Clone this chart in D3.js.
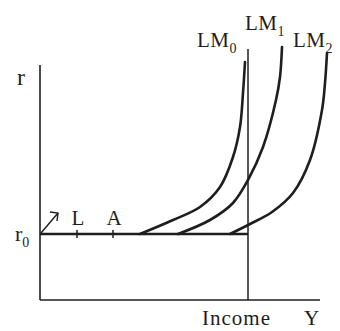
<!DOCTYPE html>
<html>
<head>
<meta charset="utf-8">
<script src="https://cdn.jsdelivr.net/npm/d3@7"></script>
<style>
  body { margin: 0; background: #fff; }
  svg text { font-family: "Liberation Serif", "Times New Roman", serif; fill: #1e1e1e; }
</style>
</head>
<body>
<div id="chart"></div>
<script>
// chart values (income units along x, interest rate units along y)
const r0 = 66;
const fullEmployment = 208;
const tickNames = ["L", "A"];
const tickValues = [37, 73];
const curveNames = ["LM", "LM", "LM"];
const curveSubs = ["0", "1", "2"];
const lm0 = [[100, 66], [133, 80], [160, 93], [180, 113], [193, 143], [200, 173], [203, 207], [205, 238]];
const lm1 = [[138, 66], [170, 80], [193, 97], [208, 120], [223, 153], [236, 200], [240, 223], [242, 253]];
const lm2 = [[190, 66], [210, 76], [232, 88], [253, 107], [270, 140], [282, 190], [285, 217], [287, 247]];

const width = 340, height = 331;
const svg = d3.select("#chart").append("svg")
  .attr("width", width).attr("height", height);

const x = d3.scaleLinear().domain([0, 280]).range([40, 320]);
const y = d3.scaleLinear().domain([0, 235]).range([300, 65]);

const ink = "#1e1e1e";

// axes
svg.append("line")
  .attr("x1", x(0)).attr("y1", y(0)).attr("x2", x(0)).attr("y2", y(235))
  .attr("stroke", ink).attr("stroke-width", 1.6);
svg.append("line")
  .attr("x1", x(0)).attr("y1", y(0)).attr("x2", x(280)).attr("y2", y(0))
  .attr("stroke", ink).attr("stroke-width", 1.6);

// full employment line
svg.append("line")
  .attr("x1", x(fullEmployment)).attr("y1", y(0))
  .attr("x2", x(fullEmployment)).attr("y2", y(251))
  .attr("stroke", ink).attr("stroke-width", 1.5);

// liquidity trap floor
svg.append("line")
  .attr("x1", x(0)).attr("y1", y(r0)).attr("x2", x(fullEmployment)).attr("y2", y(r0))
  .attr("stroke", ink).attr("stroke-width", 2.5);

svg.selectAll(".tick-mark")
  .data(tickValues)
  .enter().append("line")
  .attr("class", "tick-mark")
  .attr("x1", d => x(d)).attr("x2", d => x(d))
  .attr("y1", y(r0) - 4).attr("y2", y(r0) + 4)
  .attr("stroke", ink).attr("stroke-width", 1.5);

svg.selectAll(".tick-label")
  .data(tickValues)
  .enter().append("text")
  .attr("class", "tick-label")
  .attr("x", d => x(d) + 1).attr("y", y(r0) - 9)
  .attr("text-anchor", "middle")
  .attr("font-size", 21)
  .text((d, i) => tickNames[i]);

// arrow from origin of floor
const ax0 = x(0) + 1, ay0 = y(r0) - 1, ax1 = x(0) + 18, ay1 = y(r0) - 21;
svg.append("line")
  .attr("x1", ax0).attr("y1", ay0).attr("x2", ax1).attr("y2", ay1)
  .attr("stroke", ink).attr("stroke-width", 1.4);
svg.append("path")
  .attr("d", `M${ax1 - 8},${ay1 - 1} L${ax1},${ay1} L${ax1 - 1},${ay1 + 8}`)
  .attr("fill", "none").attr("stroke", ink).attr("stroke-width", 1.4);

// LM curves
const line = d3.line()
  .x(d => x(d[0])).y(d => y(d[1]))
  .curve(d3.curveCatmullRom.alpha(0.5));

svg.selectAll(".lm")
  .data([lm0, lm1, lm2])
  .enter().append("path")
  .attr("class", "lm")
  .attr("d", line)
  .attr("fill", "none")
  .attr("stroke", ink)
  .attr("stroke-width", 2.6)
  .attr("stroke-linecap", "round");

// curve labels
const labelPos = [[157, 253], [205, 270], [253, 253]];
const lab = svg.selectAll(".lm-label")
  .data(labelPos)
  .enter().append("text")
  .attr("class", "lm-label")
  .attr("x", d => x(d[0])).attr("y", d => y(d[1]))
  .attr("font-size", 21)
  .attr("letter-spacing", 0.5);
lab.append("tspan").text((d, i) => curveNames[i]);
lab.append("tspan")
  .attr("font-size", 14).attr("dy", 6)
  .text((d, i) => curveSubs[i]);

// axis labels
svg.append("text")
  .attr("x", 17).attr("y", 85)
  .attr("font-size", 24)
  .text("r");

const r0Label = svg.append("text")
  .attr("x", 15).attr("y", y(r0) + 7)
  .attr("font-size", 22);
r0Label.append("tspan").text("r");
r0Label.append("tspan").attr("font-size", 14).attr("dy", 6).text("0");

svg.append("text")
  .attr("x", 202).attr("y", 325)
  .attr("font-size", 21)
  .attr("letter-spacing", 1)
  .text("Income");
svg.append("text")
  .attr("x", 304).attr("y", 325)
  .attr("font-size", 21)
  .text("Y");
</script>
</body>
</html>
